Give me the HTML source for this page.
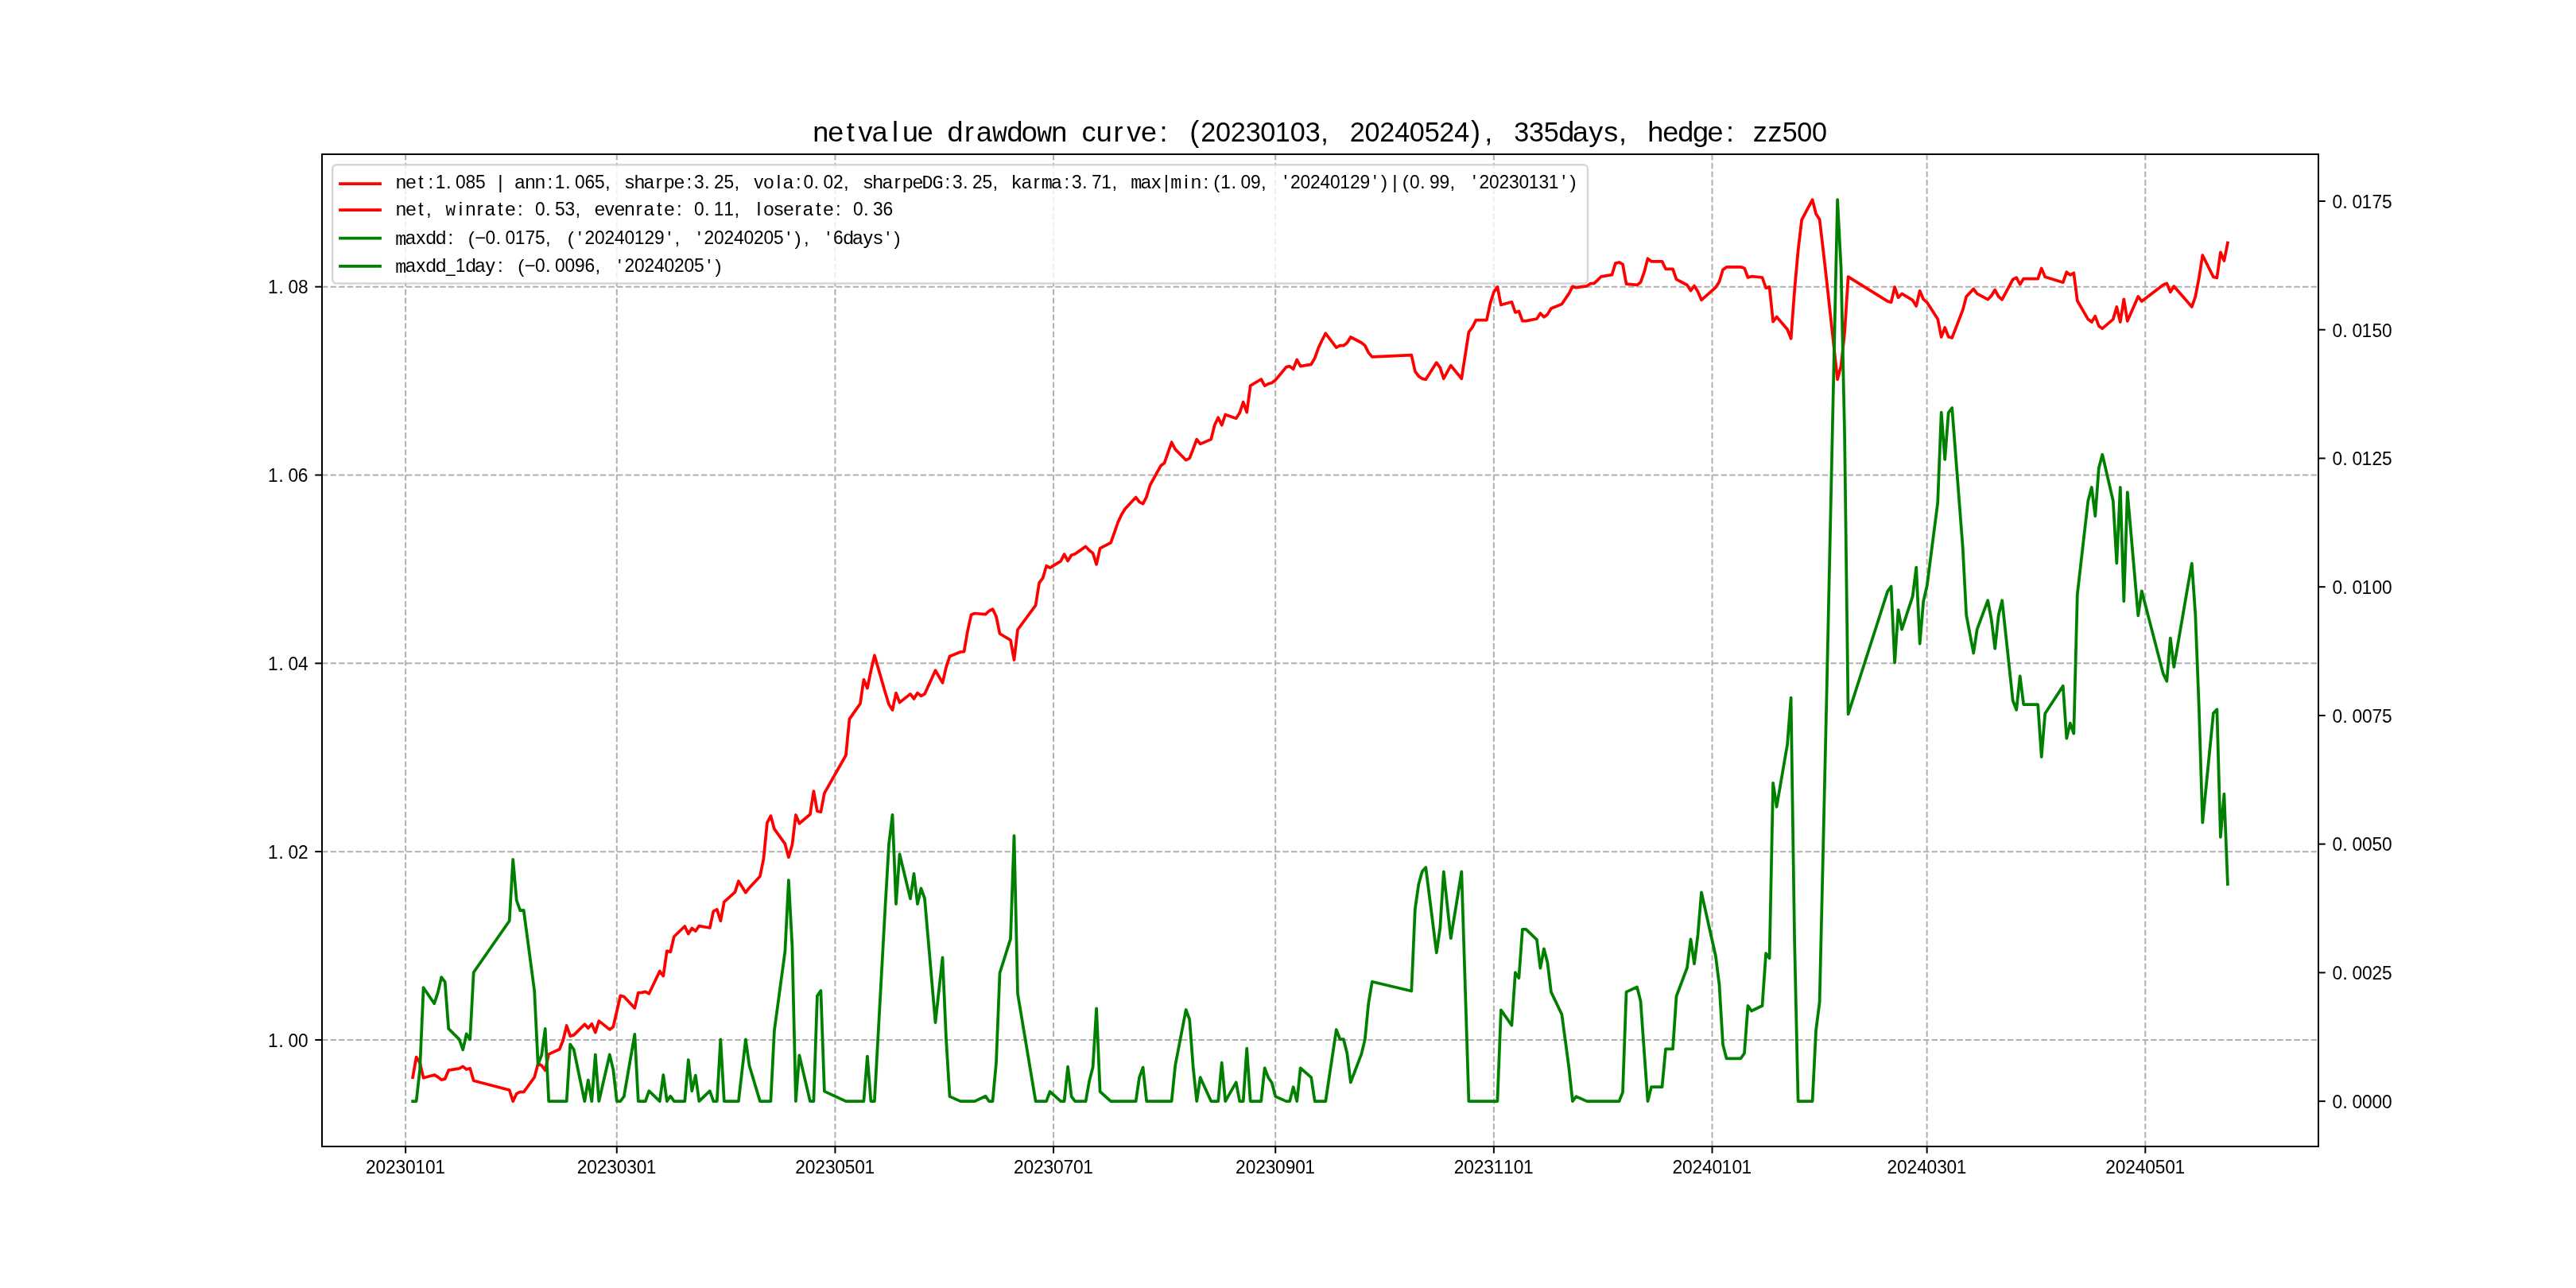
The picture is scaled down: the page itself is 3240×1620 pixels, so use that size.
<!DOCTYPE html>
<html><head><meta charset="utf-8"><title>netvalue drawdown curve</title>
<style>html,body{margin:0;padding:0;background:#fff}body{position:relative;width:3240px;height:1620px;overflow:hidden}svg{display:block;position:absolute;left:0;top:0}svg.t{filter:grayscale(1)}</style></head>
<body>
<svg width="3240" height="1620" viewBox="0 0 3240 1620" font-family="Liberation Sans, sans-serif">
<rect width="3240" height="1620" fill="#fff"/>
<g stroke="#b0b0b0" stroke-width="2" stroke-dasharray="7.4 3.2" fill="none">
<path d="M510.13 1441.8V194.4"/>
<path d="M775.77 1441.8V194.4"/>
<path d="M1050.42 1441.8V194.4"/>
<path d="M1325.07 1441.8V194.4"/>
<path d="M1604.22 1441.8V194.4"/>
<path d="M1878.87 1441.8V194.4"/>
<path d="M2153.52 1441.8V194.4"/>
<path d="M2423.66 1441.8V194.4"/>
<path d="M2698.31 1441.8V194.4"/>
<path d="M405.0 1307.95H2916.0"/>
<path d="M405.0 1071.14H2916.0"/>
<path d="M405.0 834.32H2916.0"/>
<path d="M405.0 597.51H2916.0"/>
<path d="M405.0 360.70H2916.0"/>
</g>
<path d="M519.1 1355.2 L523.6 1329.6 L528.1 1336.8 L532.6 1355.7 L546.2 1352.0 L550.7 1354.5 L555.2 1358.1 L559.7 1356.9 L564.2 1346.2 L577.7 1343.8 L582.2 1341.4 L586.7 1345.0 L591.2 1343.8 L595.7 1359.2 L640.7 1371.0 L645.2 1385.1 L649.7 1375.7 L654.2 1373.4 L658.7 1373.5 L672.2 1354.9 L676.7 1338.0 L681.2 1340.2 L685.7 1346.2 L690.2 1325.9 L703.7 1319.8 L708.2 1308.5 L712.7 1290.0 L717.2 1303.1 L721.7 1301.9 L735.3 1288.3 L739.8 1293.1 L744.3 1287.8 L748.8 1298.6 L753.3 1284.1 L766.8 1294.9 L771.3 1291.4 L775.8 1272.0 L780.3 1252.4 L784.8 1253.5 L798.3 1267.9 L802.8 1248.7 L807.3 1248.3 L811.8 1247.4 L816.3 1249.8 L829.8 1221.5 L834.3 1227.6 L838.8 1196.1 L843.3 1197.3 L847.8 1178.0 L861.3 1165.0 L865.8 1174.6 L870.3 1167.4 L874.8 1171.0 L879.3 1164.6 L892.8 1167.0 L897.3 1146.1 L901.8 1143.9 L906.3 1158.3 L910.8 1134.3 L924.4 1122.2 L928.9 1108.3 L937.9 1122.7 L942.4 1116.7 L955.9 1102.2 L960.4 1080.4 L964.9 1034.8 L969.4 1026.1 L973.9 1042.7 L987.4 1061.4 L991.9 1078.2 L996.4 1062.6 L1000.9 1025.0 L1005.4 1035.8 L1018.9 1024.3 L1023.4 995.2 L1027.9 1020.1 L1032.4 1021.3 L1036.9 997.6 L1063.9 950.0 L1068.4 904.3 L1081.9 885.2 L1086.4 854.8 L1090.9 865.5 L1095.4 843.9 L1099.9 824.3 L1113.5 871.2 L1118.0 885.9 L1122.5 893.0 L1127.0 871.6 L1131.5 883.5 L1145.0 872.9 L1149.5 878.9 L1154.0 871.6 L1158.5 875.3 L1163.0 872.9 L1176.5 843.2 L1185.5 858.8 L1190.0 839.3 L1194.5 825.5 L1208.0 820.0 L1212.5 819.6 L1217.0 793.9 L1221.5 773.3 L1226.0 771.5 L1239.5 772.7 L1244.0 768.5 L1248.5 766.1 L1253.0 775.3 L1257.5 797.0 L1271.0 805.2 L1275.5 830.0 L1280.0 792.0 L1302.6 761.3 L1307.1 733.0 L1311.6 727.2 L1316.1 711.7 L1320.6 714.1 L1334.1 705.9 L1338.6 697.2 L1343.1 705.5 L1347.6 698.3 L1352.1 696.7 L1365.6 687.4 L1370.1 692.3 L1374.6 695.7 L1379.1 709.9 L1383.6 689.7 L1397.1 682.6 L1401.6 670.0 L1406.1 657.0 L1410.6 647.2 L1415.1 640.0 L1428.6 625.4 L1433.1 631.3 L1437.6 633.7 L1442.1 624.8 L1446.6 610.0 L1460.1 585.7 L1464.6 582.2 L1469.1 569.3 L1473.6 556.3 L1478.2 565.1 L1491.7 578.7 L1496.2 576.3 L1500.7 564.7 L1505.2 552.6 L1509.7 558.4 L1523.2 552.6 L1527.7 534.6 L1532.2 525.2 L1536.7 534.7 L1541.2 521.5 L1554.7 526.2 L1559.2 519.3 L1563.7 505.7 L1568.2 518.6 L1572.7 485.2 L1586.2 477.0 L1590.7 485.2 L1595.2 482.8 L1599.7 481.5 L1604.2 478.1 L1617.7 461.7 L1622.2 460.7 L1626.7 464.2 L1631.2 452.4 L1635.7 460.6 L1649.2 458.3 L1653.7 450.4 L1658.2 437.8 L1662.8 428.0 L1667.3 419.3 L1680.8 437.1 L1685.3 434.7 L1689.8 434.7 L1694.3 431.2 L1698.8 424.0 L1712.3 431.0 L1716.8 434.6 L1721.3 443.6 L1725.8 448.9 L1775.3 446.6 L1779.8 466.8 L1784.3 473.1 L1788.8 476.3 L1793.3 477.2 L1806.8 456.1 L1811.3 462.3 L1815.8 476.2 L1820.3 467.9 L1824.8 459.7 L1838.3 476.2 L1847.4 417.6 L1851.9 411.7 L1856.4 402.6 L1869.9 402.6 L1874.4 381.3 L1878.9 367.2 L1883.4 360.9 L1887.9 383.5 L1901.4 379.8 L1905.9 392.9 L1910.4 391.5 L1914.9 403.6 L1919.4 403.6 L1932.9 401.0 L1937.4 394.0 L1941.9 398.8 L1946.4 395.4 L1950.9 388.0 L1964.4 382.5 L1968.9 375.8 L1973.4 369.1 L1977.9 360.4 L1982.4 361.6 L1995.9 359.8 L2000.4 356.7 L2004.9 356.5 L2009.4 352.4 L2013.9 347.8 L2027.4 345.7 L2031.9 331.1 L2036.5 330.0 L2041.0 332.3 L2045.5 357.2 L2059.0 358.4 L2063.5 355.0 L2068.0 342.4 L2072.5 325.2 L2077.0 328.8 L2090.5 328.8 L2095.0 338.3 L2099.5 338.3 L2104.0 338.3 L2108.5 351.4 L2122.0 358.5 L2126.5 365.6 L2131.0 359.5 L2135.5 366.7 L2140.0 377.3 L2158.0 361.3 L2162.5 354.2 L2167.0 339.3 L2171.5 335.9 L2185.0 335.9 L2189.5 335.9 L2194.0 337.2 L2198.5 349.0 L2203.0 347.7 L2216.5 349.0 L2221.1 362.1 L2225.6 360.9 L2230.1 404.6 L2234.6 398.6 L2248.1 414.2 L2252.6 425.8 L2257.1 365.3 L2261.6 315.0 L2266.1 276.7 L2279.6 251.1 L2284.1 269.0 L2288.6 275.9 L2293.1 314.3 L2297.6 353.8 L2311.1 477.2 L2315.6 460.2 L2320.1 418.0 L2324.6 348.1 L2374.1 378.9 L2378.6 380.2 L2383.1 361.1 L2387.6 374.3 L2392.1 369.4 L2405.7 377.7 L2410.2 384.9 L2414.7 365.8 L2419.2 376.4 L2423.7 380.3 L2437.2 401.2 L2441.7 423.8 L2446.2 412.0 L2450.7 423.7 L2455.2 424.9 L2468.7 389.9 L2473.2 373.0 L2477.7 368.2 L2482.2 363.4 L2486.7 369.4 L2500.2 376.7 L2504.7 371.9 L2509.2 364.6 L2513.7 373.0 L2518.2 376.7 L2531.7 351.5 L2536.2 349.2 L2540.7 357.7 L2545.2 350.6 L2549.7 350.6 L2563.2 350.6 L2567.7 337.4 L2572.2 348.3 L2594.8 355.2 L2599.3 342.1 L2603.8 345.9 L2608.3 343.3 L2612.8 378.2 L2626.3 401.6 L2630.8 405.0 L2635.3 397.8 L2639.8 409.9 L2644.3 413.2 L2657.8 401.6 L2662.3 386.0 L2666.8 405.0 L2671.3 376.4 L2675.8 403.8 L2689.3 372.9 L2693.8 379.0 L2720.8 358.3 L2725.3 356.4 L2729.8 367.2 L2734.3 360.0 L2738.8 365.2 L2752.3 380.8 L2756.8 385.9 L2761.3 373.1 L2765.8 349.7 L2770.3 321.0 L2783.9 348.4 L2788.4 349.3 L2792.9 317.3 L2797.4 328.1 L2801.9 305.5" fill="none" stroke="#ff0000" stroke-width="3.75" stroke-linejoin="round" stroke-linecap="square"/>
<path d="M519.1 1385.1 L523.6 1385.1 L528.1 1345.4 L532.6 1242.2 L546.2 1262.2 L550.7 1248.7 L555.2 1229.1 L559.7 1235.2 L564.2 1293.9 L577.7 1307.4 L582.2 1320.4 L586.7 1300.4 L591.2 1307.4 L595.7 1223.0 L640.7 1158.3 L645.2 1081.0 L649.7 1132.4 L654.2 1145.2 L658.7 1144.9 L672.2 1246.5 L676.7 1338.9 L681.2 1327.0 L685.7 1293.9 L690.2 1385.1 L703.7 1385.1 L708.2 1385.1 L712.7 1385.1 L717.2 1313.5 L721.7 1320.0 L735.3 1385.1 L739.8 1358.5 L744.3 1385.1 L748.8 1326.5 L753.3 1385.1 L766.8 1326.5 L771.3 1345.4 L775.8 1385.1 L780.3 1385.1 L784.8 1379.1 L798.3 1300.9 L802.8 1385.1 L807.3 1385.1 L811.8 1385.1 L816.3 1372.2 L829.8 1385.1 L834.3 1352.0 L838.8 1385.1 L843.3 1378.7 L847.8 1385.1 L861.3 1385.1 L865.8 1333.0 L870.3 1372.2 L874.8 1352.6 L879.3 1385.1 L892.8 1372.2 L897.3 1385.1 L901.8 1385.1 L906.3 1307.4 L910.8 1385.1 L924.4 1385.1 L928.9 1385.1 L937.9 1307.4 L942.4 1340.0 L955.9 1385.1 L960.4 1385.1 L964.9 1385.1 L969.4 1385.1 L973.9 1296.5 L987.4 1196.5 L991.9 1107.0 L996.4 1190.0 L1000.9 1385.1 L1005.4 1327.4 L1018.9 1385.1 L1023.4 1385.1 L1027.9 1252.6 L1032.4 1246.1 L1036.9 1372.6 L1063.9 1385.1 L1068.4 1385.1 L1081.9 1385.1 L1086.4 1385.1 L1090.9 1328.7 L1095.4 1385.1 L1099.9 1385.1 L1113.5 1139.1 L1118.0 1062.0 L1122.5 1024.8 L1127.0 1137.0 L1131.5 1074.3 L1145.0 1130.4 L1149.5 1098.9 L1154.0 1137.0 L1158.5 1117.4 L1163.0 1130.0 L1176.5 1286.1 L1185.5 1204.3 L1190.0 1306.4 L1194.5 1379.1 L1208.0 1385.1 L1212.5 1385.1 L1217.0 1385.1 L1221.5 1385.1 L1226.0 1385.1 L1239.5 1378.7 L1244.0 1385.1 L1248.5 1385.1 L1253.0 1336.7 L1257.5 1223.7 L1271.0 1180.9 L1275.5 1051.1 L1280.0 1249.8 L1302.6 1385.1 L1307.1 1385.1 L1311.6 1385.1 L1316.1 1385.1 L1320.6 1373.0 L1334.1 1385.1 L1338.6 1385.1 L1343.1 1341.7 L1347.6 1379.1 L1352.1 1385.1 L1365.6 1385.1 L1370.1 1359.6 L1374.6 1342.2 L1379.1 1268.3 L1383.6 1373.0 L1397.1 1385.1 L1401.6 1385.1 L1406.1 1385.1 L1410.6 1385.1 L1415.1 1385.1 L1428.6 1385.1 L1433.1 1354.8 L1437.6 1342.6 L1442.1 1385.1 L1446.6 1385.1 L1460.1 1385.1 L1464.6 1385.1 L1469.1 1385.1 L1473.6 1385.1 L1478.2 1340.0 L1491.7 1270.0 L1496.2 1282.4 L1500.7 1342.2 L1505.2 1385.1 L1509.7 1355.2 L1523.2 1385.1 L1527.7 1385.1 L1532.2 1385.1 L1536.7 1336.7 L1541.2 1385.1 L1554.7 1361.3 L1559.2 1385.1 L1563.7 1385.1 L1568.2 1318.7 L1572.7 1385.1 L1586.2 1385.1 L1590.7 1343.3 L1595.2 1355.2 L1599.7 1361.7 L1604.2 1379.1 L1617.7 1385.1 L1622.2 1385.1 L1626.7 1367.2 L1631.2 1385.1 L1635.7 1343.3 L1649.2 1355.2 L1653.7 1385.1 L1658.2 1385.1 L1662.8 1385.1 L1667.3 1385.1 L1680.8 1295.0 L1685.3 1307.0 L1689.8 1307.0 L1694.3 1324.8 L1698.8 1361.3 L1712.3 1325.9 L1716.8 1307.4 L1721.3 1261.7 L1725.8 1234.8 L1775.3 1246.5 L1779.8 1143.7 L1784.3 1112.2 L1788.8 1095.9 L1793.3 1091.0 L1806.8 1198.3 L1811.3 1167.1 L1815.8 1096.4 L1820.3 1138.5 L1824.8 1180.2 L1838.3 1096.4 L1847.4 1385.1 L1851.9 1385.1 L1856.4 1385.1 L1869.9 1385.1 L1874.4 1385.1 L1878.9 1385.1 L1883.4 1385.1 L1887.9 1270.4 L1901.4 1289.6 L1905.9 1223.2 L1910.4 1230.2 L1914.9 1168.8 L1919.4 1168.8 L1932.9 1181.8 L1937.4 1217.7 L1941.9 1193.3 L1946.4 1210.7 L1950.9 1247.6 L1964.4 1275.9 L1968.9 1309.6 L1973.4 1343.3 L1977.9 1385.1 L1982.4 1379.1 L1995.9 1385.1 L2000.4 1385.1 L2004.9 1385.1 L2009.4 1385.1 L2013.9 1385.1 L2027.4 1385.1 L2031.9 1385.1 L2036.5 1385.1 L2041.0 1373.7 L2045.5 1247.6 L2059.0 1241.5 L2063.5 1259.1 L2068.0 1322.6 L2072.5 1385.1 L2077.0 1367.2 L2090.5 1367.2 L2095.0 1319.3 L2099.5 1319.3 L2104.0 1319.3 L2108.5 1253.0 L2122.0 1217.2 L2126.5 1181.3 L2131.0 1212.2 L2135.5 1175.9 L2140.0 1122.4 L2158.0 1203.0 L2162.5 1238.9 L2167.0 1313.9 L2171.5 1331.3 L2185.0 1331.3 L2189.5 1331.3 L2194.0 1324.8 L2198.5 1265.0 L2203.0 1271.5 L2216.5 1265.0 L2221.1 1199.1 L2225.6 1205.2 L2230.1 984.8 L2234.6 1014.8 L2248.1 936.1 L2252.6 877.6 L2257.1 1183.0 L2261.6 1385.1 L2266.1 1385.1 L2279.6 1385.1 L2284.1 1295.4 L2288.6 1260.7 L2293.1 1068.0 L2297.6 870.0 L2311.1 251.1 L2315.6 336.3 L2320.1 548.0 L2324.6 898.3 L2374.1 743.9 L2378.6 737.6 L2383.1 833.5 L2387.6 767.2 L2392.1 791.7 L2405.7 749.8 L2410.2 713.7 L2414.7 809.6 L2419.2 756.3 L2423.7 737.0 L2437.2 632.2 L2441.7 518.7 L2446.2 577.8 L2450.7 519.1 L2455.2 513.0 L2468.7 688.7 L2473.2 773.7 L2477.7 797.6 L2482.2 821.5 L2486.7 791.7 L2500.2 755.2 L2504.7 779.1 L2509.2 815.7 L2513.7 773.7 L2518.2 755.2 L2531.7 881.3 L2536.2 892.8 L2540.7 850.4 L2545.2 886.1 L2549.7 886.1 L2563.2 886.1 L2567.7 952.0 L2572.2 897.6 L2594.8 862.8 L2599.3 928.7 L2603.8 909.6 L2608.3 922.6 L2612.8 747.6 L2626.3 630.0 L2630.8 613.0 L2635.3 649.1 L2639.8 588.7 L2644.3 571.7 L2657.8 630.0 L2662.3 708.3 L2666.8 613.0 L2671.3 756.3 L2675.8 619.1 L2689.3 774.3 L2693.8 743.3 L2720.8 847.4 L2725.3 856.8 L2729.8 802.6 L2734.3 838.9 L2738.8 812.9 L2752.3 734.3 L2756.8 708.7 L2761.3 773.1 L2765.8 890.2 L2770.3 1034.6 L2783.9 897.1 L2788.4 892.3 L2792.9 1052.9 L2797.4 998.7 L2801.9 1112.0" fill="none" stroke="#008000" stroke-width="3.75" stroke-linejoin="round" stroke-linecap="square"/>
<rect x="418.2" y="207.3" width="1578.8" height="149.2" rx="5" ry="5" fill="#fff" fill-opacity="0.8" stroke="#ccc" stroke-opacity="0.8" stroke-width="2.5"/>
<path d="M428 231.1H478" stroke="#ff0000" stroke-width="3.75" stroke-linecap="square"/>

<path d="M428 264.0H478" stroke="#ff0000" stroke-width="3.75" stroke-linecap="square"/>

<path d="M428 299.7H478" stroke="#008000" stroke-width="3.75" stroke-linecap="square"/>

<path d="M428 334.8H478" stroke="#008000" stroke-width="3.75" stroke-linecap="square"/>

<rect x="405.0" y="194" width="2511.0" height="1248" fill="none" stroke="#000" stroke-width="2"/>
<g stroke="#000" stroke-width="2">
<path d="M510.13 1441.8v8.75"/>
<path d="M775.77 1441.8v8.75"/>
<path d="M1050.42 1441.8v8.75"/>
<path d="M1325.07 1441.8v8.75"/>
<path d="M1604.22 1441.8v8.75"/>
<path d="M1878.87 1441.8v8.75"/>
<path d="M2153.52 1441.8v8.75"/>
<path d="M2423.66 1441.8v8.75"/>
<path d="M2698.31 1441.8v8.75"/>
<path d="M405.0 1307.95h-8.75"/>
<path d="M405.0 1071.14h-8.75"/>
<path d="M405.0 834.32h-8.75"/>
<path d="M405.0 597.51h-8.75"/>
<path d="M405.0 360.70h-8.75"/>
<path d="M2916.0 1385.10h8.75"/>
<path d="M2916.0 1223.37h8.75"/>
<path d="M2916.0 1061.64h8.75"/>
<path d="M2916.0 899.91h8.75"/>
<path d="M2916.0 738.19h8.75"/>
<path d="M2916.0 576.46h8.75"/>
<path d="M2916.0 414.73h8.75"/>
<path d="M2916.0 253.00h8.75"/>
</g>























</svg>
<svg class="t" width="3240" height="1620" viewBox="0 0 3240 1620" font-family="Liberation Sans, sans-serif">
<g fill="#000">
<text font-size="23.05" transform="scale(1.04,1)" y="237.30" x="478.53 490.58 505.70 517.81 539.32 634.78 646.79 662.04 683.55 731.63 755.73 766.95 793.04 802.80 815.10 830.31 851.82 887.88 911.88 923.25 939.12 962.52 984.03 1020.09 1044.19 1055.41 1081.50 1091.26 1103.57 1142.81 1164.32 1200.38 1223.59 1249.77 1287.04 1308.55 1344.61 1392.65 1431.92 1440.06 1455.31 1488.84 1524.90 1717.21 1753.26">net:.nn:.,shrpe:.,vol:.,shrpe:.,kr:.,xin:.,.,</text>
<text font-size="23.98" transform="scale(0.95,1)" y="237.30" x="576.53 603.17 616.33 629.51 734.42 761.07 774.14 787.41 919.03 945.28 958.46 1063.70 1090.01 1103.17 1261.14 1287.38 1300.56 1419.03 1445.27 1458.11 1616.00 1642.65 1655.81 1708.44 1721.59 1734.75 1747.99 1761.07 1773.90 1787.38 1800.55 1866.33 1892.65 1905.81 1958.44 1971.59 1984.75 1997.98 2011.07 2023.90 2037.45 2050.21">108510653250023253711092024012909920230131</text>
<text font-size="24.1" transform="scale(1.0,1)" y="237.30" x="626.22 1463.72 1526.16 1614.54 1727.04 1737.01 1751.22 1763.66 1852.04 1964.54 1974.51">||('')|('')</text>
<text font-size="23.05" transform="scale(1.024,1)" y="237.30" x="632.11 790.81 961.70 1083.77 1254.67 1291.29 1401.16">aaaaaaa</text>
<text font-family="Liberation Mono, monospace" font-size="23.4" transform="scale(1.0,1)" y="237.30" x="1159.50 1172.40 1309.86 1422.36 1472.36">DGmmm</text>
</g>
<g fill="#000">
<text font-size="23.05" transform="scale(1.04,1)" y="271.10" x="478.53 490.58 505.70 515.28 554.51 562.66 576.69 601.85 610.78 625.98 659.51 695.57 718.95 731.59 742.99 754.97 769.00 794.16 803.08 818.29 851.82 887.88 915.08 923.25 936.02 947.32 961.31 986.47 995.39 1010.60 1044.13">net,inrte:.,evenrte:.,loserte:.</text>
<text font-family="Liberation Mono, monospace" font-size="23.4" transform="scale(0.894,1)" y="271.10" x="627.04">w</text>
<text font-size="23.05" transform="scale(1.024,1)" y="271.10" x="595.49 790.81 986.12">aaa</text>
<text font-size="23.98" transform="scale(0.95,1)" y="271.10" x="708.44 734.77 747.98 918.96 944.95 958.11 1129.49 1155.87 1168.88">053011036</text>
</g>
<g fill="#000">
<text font-family="Liberation Mono, monospace" font-size="23.4" transform="scale(1.0,1)" y="307.50" x="497.36">m</text>
<text font-size="23.05" transform="scale(1.024,1)" y="307.50" x="497.84 1047.15">aa</text>
<text font-size="23.05" transform="scale(1.04,1)" y="307.50" x="503.22 514.86 526.88 541.85 574.37 599.42 659.51 815.76 972.01 1019.67 1044.09 1056.21">xdd:−.,,,dys</text>
<text font-size="24.1" transform="scale(1.0,1)" y="307.50" x="588.66 713.66 727.04 839.54 877.04 989.54 999.51 1039.54 1114.54 1124.51">(('''')'')</text>
<text font-size="23.98" transform="scale(0.95,1)" y="307.50" x="642.65 668.96 681.79 695.27 708.46 774.23 787.38 800.54 813.77 826.86 839.69 853.17 866.34 932.12 945.28 958.44 971.67 984.75 997.91 1011.07 1024.25 1103.09">0017520240129202402056</text>
</g>
<g fill="#000">
<text font-family="Liberation Mono, monospace" font-size="23.4" transform="scale(1.0,1)" y="342.50" x="497.36">m</text>
<text font-size="23.05" transform="scale(1.024,1)" y="342.50" x="497.84 583.29">aa</text>
<text font-size="23.05" transform="scale(1.04,1)" y="342.50" x="503.22 514.86 526.88 562.94 587.36 601.94 634.47 659.51 719.61">xdddy:−.,</text>
<text font-size="23.05" transform="scale(0.903,1)" y="342.50" x="621.38">_</text>
<text font-size="23.98" transform="scale(0.95,1)" y="342.50" x="602.84 708.44 734.75 747.91 761.07 774.14 826.86 840.01 853.17 866.41 879.49 892.65 905.80 918.99">10009620240205</text>
<text font-size="24.1" transform="scale(1.0,1)" y="342.50" x="651.16 777.04 889.54 899.51">('')</text>
</g>
<g fill="#000">
<text font-size="23.98" transform="scale(0.95,1)" y="1475.60" x="484.26 497.42 510.57 523.80 536.89 549.72 563.21 576.04">20230101</text>
</g>
<g fill="#000">
<text font-size="23.98" transform="scale(0.95,1)" y="1475.60" x="763.88 777.04 790.20 803.43 816.51 829.74 842.83 855.66">20230301</text>
</g>
<g fill="#000">
<text font-size="23.98" transform="scale(0.95,1)" y="1475.60" x="1052.99 1066.14 1079.30 1092.53 1105.62 1118.80 1131.93 1144.76">20230501</text>
</g>
<g fill="#000">
<text font-size="23.98" transform="scale(0.95,1)" y="1475.60" x="1342.09 1355.25 1368.40 1381.63 1394.72 1407.87 1421.04 1433.87">20230701</text>
</g>
<g fill="#000">
<text font-size="23.98" transform="scale(0.95,1)" y="1475.60" x="1635.93 1649.09 1662.25 1675.47 1688.56 1701.73 1714.88 1727.71">20230901</text>
</g>
<g fill="#000">
<text font-size="23.98" transform="scale(0.95,1)" y="1475.60" x="1925.03 1938.19 1951.35 1964.58 1977.34 1990.49 2003.98 2016.81">20231101</text>
</g>
<g fill="#000">
<text font-size="23.98" transform="scale(0.95,1)" y="1475.60" x="2214.14 2227.29 2240.45 2253.69 2266.77 2279.60 2293.08 2305.91">20240101</text>
</g>
<g fill="#000">
<text font-size="23.98" transform="scale(0.95,1)" y="1475.60" x="2498.50 2511.66 2524.81 2538.05 2551.13 2564.36 2577.45 2590.28">20240301</text>
</g>
<g fill="#000">
<text font-size="23.98" transform="scale(0.95,1)" y="1475.60" x="2787.60 2800.76 2813.92 2827.15 2840.23 2853.41 2866.55 2879.38">20240501</text>
</g>
<g fill="#000">
<text font-size="23.98" transform="scale(0.95,1)" y="1316.75" x="354.84 381.49 394.65">100</text>
<text font-size="23.05" transform="scale(1.04,1)" y="1316.75" x="336.82">.</text>
</g>
<g fill="#000">
<text font-size="23.98" transform="scale(0.95,1)" y="1079.94" x="354.84 381.49 394.65">102</text>
<text font-size="23.05" transform="scale(1.04,1)" y="1079.94" x="336.82">.</text>
</g>
<g fill="#000">
<text font-size="23.98" transform="scale(0.95,1)" y="843.12" x="354.84 381.49 394.72">104</text>
<text font-size="23.05" transform="scale(1.04,1)" y="843.12" x="336.82">.</text>
</g>
<g fill="#000">
<text font-size="23.98" transform="scale(0.95,1)" y="606.31" x="354.84 381.49 394.56">106</text>
<text font-size="23.05" transform="scale(1.04,1)" y="606.31" x="336.82">.</text>
</g>
<g fill="#000">
<text font-size="23.98" transform="scale(0.95,1)" y="369.50" x="354.84 381.49 394.65">108</text>
<text font-size="23.05" transform="scale(1.04,1)" y="369.50" x="336.82">.</text>
</g>
<g fill="#000">
<text font-size="23.98" transform="scale(0.95,1)" y="1393.90" x="3087.80 3114.12 3127.28 3140.44 3153.59">00000</text>
<text font-size="23.05" transform="scale(1.04,1)" y="1393.90" x="2832.98">.</text>
</g>
<g fill="#000">
<text font-size="23.98" transform="scale(0.95,1)" y="1232.17" x="3087.80 3114.12 3127.28 3140.44 3153.62">00025</text>
<text font-size="23.05" transform="scale(1.04,1)" y="1232.17" x="2832.98">.</text>
</g>
<g fill="#000">
<text font-size="23.98" transform="scale(0.95,1)" y="1070.44" x="3087.80 3114.12 3127.28 3140.46 3153.59">00050</text>
<text font-size="23.05" transform="scale(1.04,1)" y="1070.44" x="2832.98">.</text>
</g>
<g fill="#000">
<text font-size="23.98" transform="scale(0.95,1)" y="908.71" x="3087.80 3114.12 3127.28 3140.42 3153.62">00075</text>
<text font-size="23.05" transform="scale(1.04,1)" y="908.71" x="2832.98">.</text>
</g>
<g fill="#000">
<text font-size="23.98" transform="scale(0.95,1)" y="746.99" x="3087.80 3114.12 3126.95 3140.44 3153.59">00100</text>
<text font-size="23.05" transform="scale(1.04,1)" y="746.99" x="2832.98">.</text>
</g>
<g fill="#000">
<text font-size="23.98" transform="scale(0.95,1)" y="585.26" x="3087.80 3114.12 3126.95 3140.44 3153.62">00125</text>
<text font-size="23.05" transform="scale(1.04,1)" y="585.26" x="2832.98">.</text>
</g>
<g fill="#000">
<text font-size="23.98" transform="scale(0.95,1)" y="423.53" x="3087.80 3114.12 3126.95 3140.46 3153.59">00150</text>
<text font-size="23.05" transform="scale(1.04,1)" y="423.53" x="2832.98">.</text>
</g>
<g fill="#000">
<text font-size="23.98" transform="scale(0.95,1)" y="261.80" x="3087.80 3114.12 3126.95 3140.42 3153.62">00175</text>
<text font-size="23.05" transform="scale(1.04,1)" y="261.80" x="2832.98">.</text>
</g>
<g fill="#000">
<text font-size="34.57" transform="scale(1.04,1)" y="178.00" x="983.03 1001.12 1023.79 1038.11 1078.96 1091.25 1109.29 1145.70 1166.34 1217.82 1235.46 1271.49 1308.27 1325.63 1346.63 1362.63 1379.72 1402.53 1597.06 1795.38 1884.88 1921.52 1939.70 1957.64 1992.59 2010.73 2029.12 2047.14 2064.82 2087.63 2120.00 2138.03">netvluedrdoncurve:,,dys,hedge:zz</text>
<text font-size="34.57" transform="scale(1.024,1)" y="178.00" x="1071.07 1199.25 1931.67">aaa</text>
<text font-family="Liberation Mono, monospace" font-size="35.1" transform="scale(0.894,1)" y="178.00" x="1395.93 1458.85">ww</text>
<text font-size="36.15" transform="scale(1.0,1)" y="178.00" x="1496.34 1850.12">()</text>
<text font-size="35.98" transform="scale(0.95,1)" y="178.00" x="1589.86 1609.60 1629.34 1649.18 1668.81 1688.06 1708.28 1728.13 1787.23 1806.97 1826.71 1846.56 1866.18 1885.95 1905.65 1925.50 2004.44 2024.18 2043.85 2359.64 2379.34 2399.07">2023010320240524335500</text>
</g>
</svg>
</body></html>
